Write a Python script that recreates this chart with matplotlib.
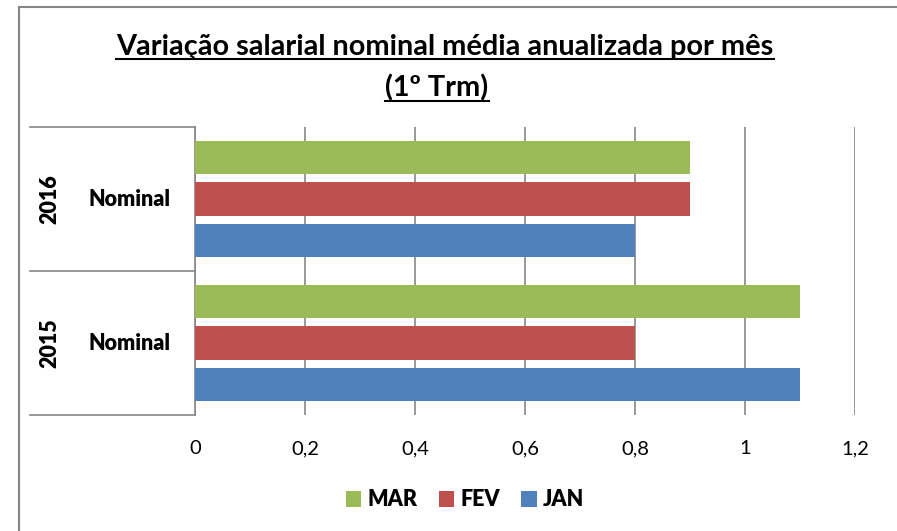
import numpy as np
import matplotlib.pyplot as plt
from matplotlib.lines import Line2D
from matplotlib.patches import Rectangle
import matplotlib.transforms as mtransforms

plt.rcParams['font.family'] = ['Lato', 'DejaVu Sans']

# data
years = ['2015', '2016']
series = ['JAN', 'FEV', 'MAR']
jan = [1.1, 0.8]
fev = [0.8, 0.9]
mar = [1.1, 0.9]
colors = {'JAN': '#4F81BD', 'FEV': '#C0504D', 'MAR': '#9BBB59'}
xticks = [0, 0.2, 0.4, 0.6, 0.8, 1.0, 1.2]
xticklabels = ['0', '0,2', '0,4', '0,6', '0,8', '1', '1,2']

W, H = 897, 531
fig = plt.figure(figsize=(W / 100, H / 100), dpi=100)
ax = fig.add_axes([195 / W, 1 - 415 / H, 660 / W, 288 / H])

y = np.arange(len(years))
offs = {'JAN': -0.29, 'FEV': 0.0, 'MAR': 0.29}
vals = {'JAN': jan, 'FEV': fev, 'MAR': mar}
for s in series:
    ax.barh(y + offs[s], vals[s], height=0.23, color=colors[s], label=s, zorder=3)

ax.set_xlim(0, 1.2)
ax.set_ylim(-0.5, 1.5)
ax.set_xticks(xticks)
ax.set_xticklabels(xticklabels, fontsize=14.5)
ax.tick_params(axis='x', length=0, pad=18)
ax.set_yticks([])
ax.grid(axis='x', color='#868686', lw=1.2, zorder=0)
for sp in ['top', 'right', 'bottom']:
    ax.spines[sp].set_visible(False)
ax.spines['left'].set_color('#868686')
ax.spines['left'].set_linewidth(1.2)

# category box on the left
tr = mtransforms.blended_transform_factory(ax.transAxes, ax.transData)
for yy in [-0.5, 0.5, 1.5]:
    ax.add_line(Line2D([-0.25, 0], [yy, yy], transform=tr, color='#868686',
                       lw=1.2, clip_on=False))
for i, yr in enumerate(years):
    ax.text(-0.2205, i, yr, transform=tr, rotation=90, ha='center', va='center',
            fontsize=15.5, fontweight='heavy')
    ax.text(-0.1, i, 'Nominal', transform=tr, ha='center', va='center',
            fontsize=15.5, fontweight='heavy')

# outer border
fig.add_artist(Rectangle((19 / W, -0.1), 1.2, 1 - 7 / H + 0.1, transform=fig.transFigure,
                         fill=False, edgecolor='#868686', lw=1.5))

# title with underline
t1 = fig.text(445 / W, 1 - 47 / H, 'Variação salarial nominal média anualizada por mês',
              ha='center', va='center', fontsize=20.8, fontweight='bold')
t2 = fig.text(437 / W, 1 - 88 / H, '(1º Trm)', ha='center', va='center',
              fontsize=20.8, fontweight='bold')
fig.canvas.draw()
r = fig.canvas.get_renderer()
for t in [t1, t2]:
    bb = t.get_window_extent(r)
    fig.add_artist(Line2D([bb.x0 / W, bb.x1 / W], [(bb.y0 + 1) / H, (bb.y0 + 1) / H],
                          transform=fig.transFigure, color='black', lw=1.5))

h, l = ax.get_legend_handles_labels()
leg = fig.legend(h[::-1], l[::-1], loc='center', bbox_to_anchor=(465 / W, 1 - 500 / H),
                 ncol=3, frameon=False, handlelength=0.7, handleheight=0.7,
                 handletextpad=0.3, columnspacing=1.0,
                 prop={'weight': 'heavy', 'size': 15.5})

fig.savefig('out.png', dpi=100)
